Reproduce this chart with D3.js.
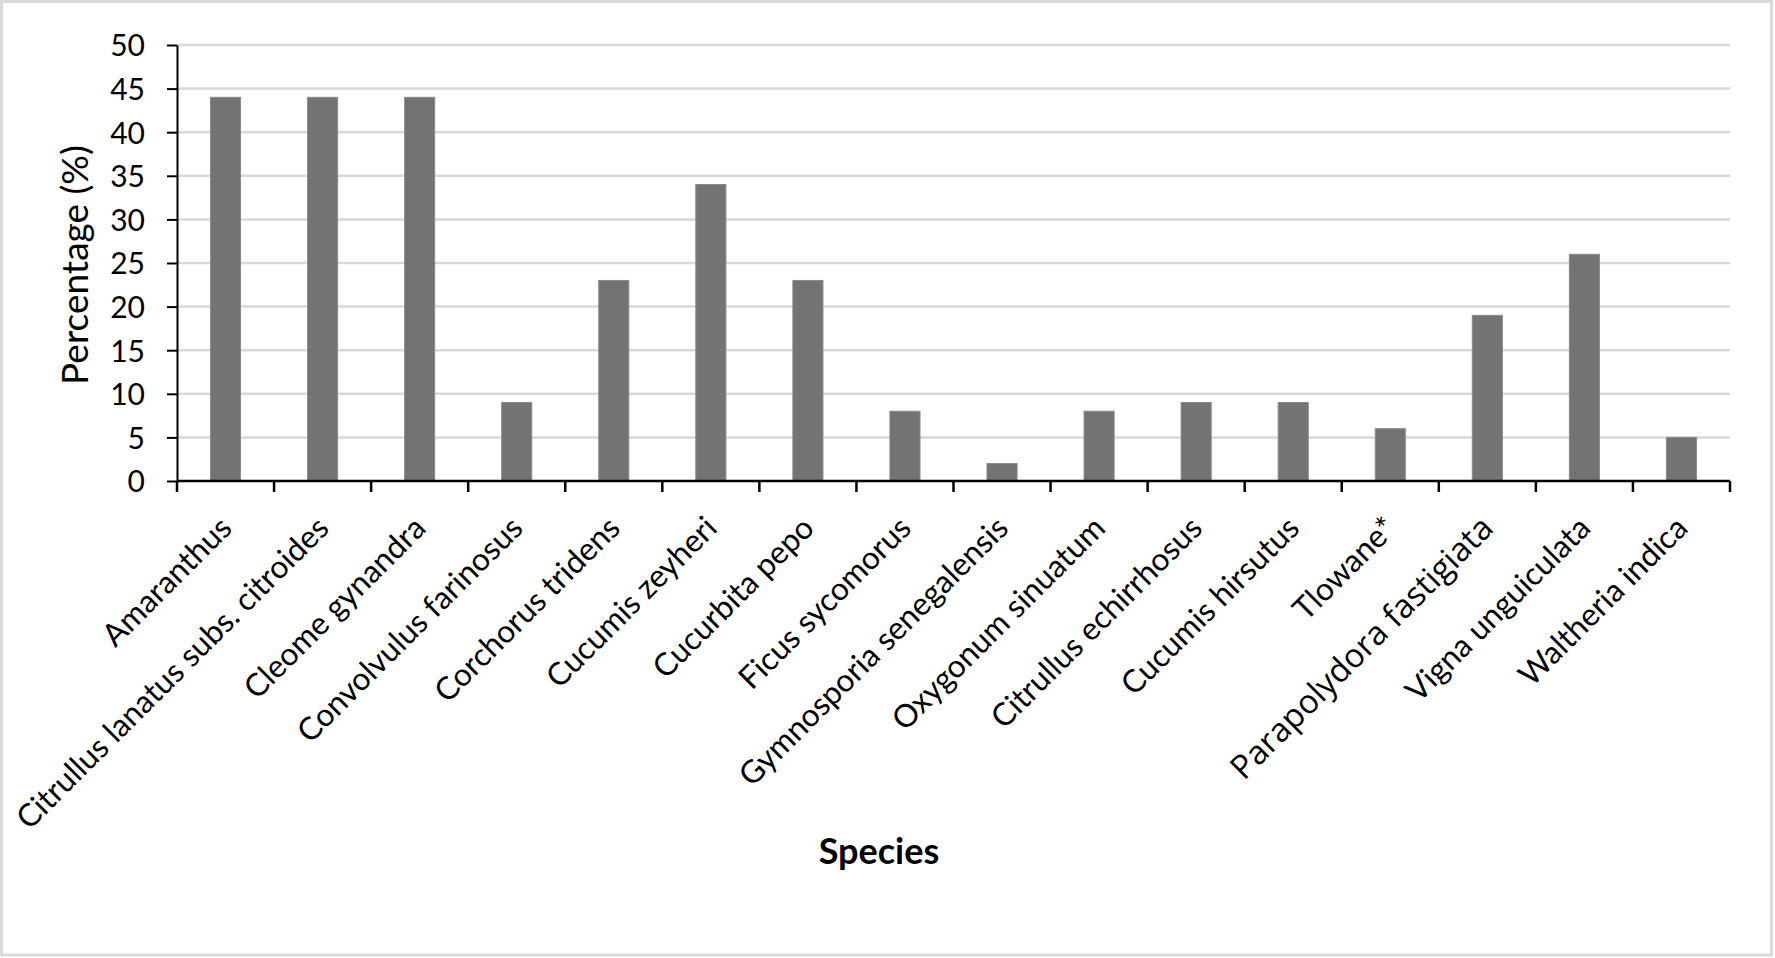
<!DOCTYPE html>
<html>
<head>
<meta charset="utf-8">
<script src="https://cdn.jsdelivr.net/npm/d3@7"></script>
<style>
  html, body { margin: 0; padding: 0; background: #ffffff; }
  svg { display: block; }
</style>
</head>
<body>
<svg id="chart" width="1775" height="958"></svg>
<script>
const categories = [
  "Amaranthus",
  "Citrullus lanatus subs. citroides",
  "Cleome gynandra",
  "Convolvulus farinosus",
  "Corchorus tridens",
  "Cucumis zeyheri",
  "Cucurbita pepo",
  "Ficus sycomorus",
  "Gymnosporia senegalensis",
  "Oxygonum sinuatum",
  "Citrullus echirrhosus",
  "Cucumis hirsutus",
  "Tlowane*",
  "Parapolydora fastigiata",
  "Vigna unguiculata",
  "Waltheria indica"
];
const values = [44, 44, 44, 9, 23, 34, 23, 8, 2, 8, 9, 9, 6, 19, 26, 5];
const yTicks = [0, 5, 10, 15, 20, 25, 30, 35, 40, 45, 50];
const yTitle = "Percentage (%)";
const xTitle = "Species";

(function () {
const svg = d3.select("#chart");
const W = 1775, H = 958;
const pl = 177, pr = 1730, pt = 45, pb = 481;

// outer frame
svg.append("rect")
  .attr("x", 1.5).attr("y", 1.5)
  .attr("width", W - 5).attr("height", H - 4.5)
  .attr("fill", "#ffffff")
  .attr("stroke", "#d9d9d9")
  .attr("stroke-width", 3);

const x = d3.scaleBand()
  .domain(categories)
  .range([pl, pr])
  .paddingInner(0.69)
  .paddingOuter(0.345);

const y = d3.scaleLinear().domain([0, 50]).range([pb, pt]);

// gridlines
svg.append("g")
  .selectAll("line")
  .data(yTicks.filter(t => t > 0))
  .join("line")
  .attr("x1", pl).attr("x2", pr)
  .attr("y1", d => y(d)).attr("y2", d => y(d))
  .attr("stroke", "#d9d9d9")
  .attr("stroke-width", 2.5);

// bars
svg.append("g")
  .selectAll("rect")
  .data(categories.map((c, i) => ({ c, v: values[i] })))
  .join("rect")
  .attr("x", d => x(d.c))
  .attr("y", d => y(d.v))
  .attr("width", x.bandwidth())
  .attr("height", d => y(0) - y(d.v))
  .attr("fill", "#737373")
  .attr("stroke", "#8a8a8a")
  .attr("stroke-width", 1);

// y axis
const yAxis = svg.append("g")
  .attr("transform", `translate(${pl},0)`)
  .call(d3.axisLeft(y).tickValues(yTicks).tickSize(10).tickSizeOuter(0).tickPadding(22));
yAxis.select(".domain").attr("stroke", "#000").attr("stroke-width", 2);
yAxis.selectAll(".tick line").attr("stroke", "#000").attr("stroke-width", 2);
yAxis.selectAll(".tick text")
  .attr("font-family", "Lato, 'Open Sans', sans-serif")
  .attr("font-size", 30)
  .attr("fill", "#000")
  .attr("dy", "0.36em");

// x axis
const xAxis = svg.append("g")
  .attr("transform", `translate(0,${pb})`)
  .call(d3.axisBottom(x).tickSize(0).tickSizeOuter(0));
xAxis.select(".domain").attr("stroke", "#000").attr("stroke-width", 2.5)
  .attr("d", `M${pl},0H${pr}`);
xAxis.selectAll(".tick text")
  .attr("font-family", d => d === "Parapolydora fastigiata" ? "'Open Sans', Lato, sans-serif" : "Lato, 'Open Sans', sans-serif")
  .attr("font-size", d => d === "Parapolydora fastigiata" ? 33 : 31.5)
  .attr("fill", "#000")
  .attr("text-anchor", "end")
  .attr("x", 0).attr("y", 0).attr("dy", 0)
  .attr("transform", "translate(8,49) rotate(-45)");

// boundary ticks on the category axis
const step = x.step();
const bounds = d3.range(categories.length + 1).map(i => pl + i * step);
svg.append("g")
  .selectAll("line")
  .data(bounds)
  .join("line")
  .attr("x1", d => d).attr("x2", d => d)
  .attr("y1", pb).attr("y2", pb + 11)
  .attr("stroke", "#000")
  .attr("stroke-width", 2.5);

// axis titles
svg.append("text")
  .attr("transform", "translate(88,265) rotate(-90)")
  .attr("text-anchor", "middle")
  .attr("font-family", "Lato, 'Open Sans', sans-serif")
  .attr("font-size", 37)
  .attr("fill", "#000")
  .text(yTitle);

svg.append("text")
  .attr("x", 879).attr("y", 864)
  .attr("text-anchor", "middle")
  .attr("font-family", "Lato, 'Open Sans', sans-serif")
  .attr("font-weight", "bold")
  .attr("font-size", 36)
  .attr("fill", "#000")
  .text(xTitle);
})();
</script>
</body>
</html>
